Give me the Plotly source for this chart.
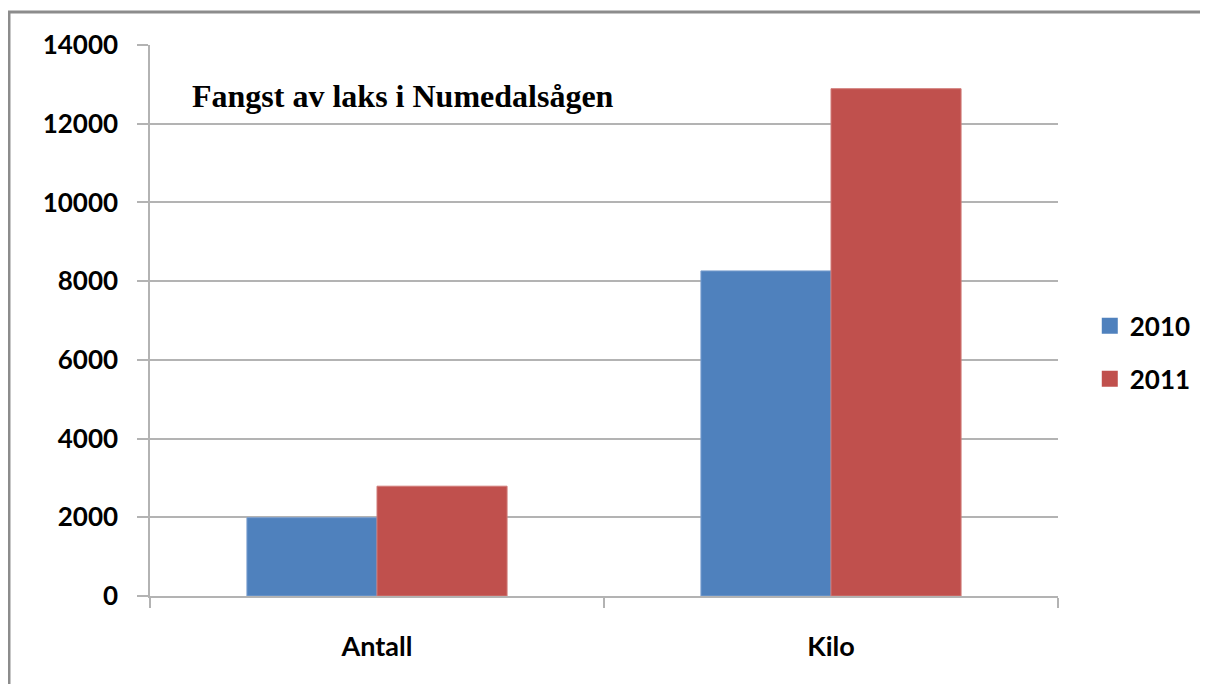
import plotly.graph_objects as go

categories = ["Antall", "Kilo"]
values_2010 = [1990, 8260]
values_2011 = [2790, 12890]
series_names = ["2010", "2011"]
y_ticks = [0, 2000, 4000, 6000, 8000, 10000, 12000, 14000]
title_text = "Fangst av laks i Numedalsågen"

blue = "#4F81BD"
red = "#C0504D"
grid = "#b3b3b3"
font_fam = "Lato, 'Open Sans', sans-serif"

fig = go.Figure()
fig.add_trace(go.Bar(x=categories, y=values_2010, name=series_names[0],
                     marker=dict(color=blue, line=dict(color="#7a9fcf", width=1)),
                     showlegend=False))
fig.add_trace(go.Bar(x=categories, y=values_2011, name=series_names[1],
                     marker=dict(color=red, line=dict(color="#d07a78", width=1)),
                     showlegend=False))
# legend entries with larger square swatches
for nm, col, grp in [(series_names[0], blue, "a"), (series_names[1], red, "b")]:
    fig.add_trace(go.Scatter(x=[None], y=[None], mode="markers", name=nm,
                             marker=dict(symbol="square", size=16, color=col),
                             legendgroup=grp, showlegend=True))

fig.update_layout(
    width=1208, height=684,
    margin=dict(l=142, r=158, t=37, b=96),
    paper_bgcolor="white", plot_bgcolor="white",
    barmode="group", bargap=0.427, bargroupgap=0,
    font=dict(family=font_fam, size=26, color="black"),
    showlegend=True,
    legend=dict(x=1.035, xanchor="left", y=0.442, yanchor="middle",
                font=dict(family=font_fam, size=26, color="black", weight="bold"),
                tracegroupgap=16, traceorder="grouped", itemsizing="trace"),
)
fig.update_yaxes(
    range=[0, 14000], tickvals=y_ticks, ticktext=[str(v) for v in y_ticks],
    showgrid=True, gridcolor=grid, gridwidth=1.5,
    showline=True, linecolor=grid, linewidth=1.5,
    ticks="outside", ticklen=11, tickcolor=grid, tickwidth=1.5,
    tickfont=dict(family=font_fam, size=26, color="black", weight="bold"),
    ticklabelstandoff=14, zeroline=False,
)
fig.update_xaxes(
    showline=True, linecolor=grid, linewidth=1.5,
    ticks="outside", ticklen=10, tickcolor=grid, tickwidth=1.5,
    tickson="boundaries",
    tickfont=dict(family=font_fam, size=27, color="black", weight="bold"),
    ticklabelstandoff=26,
)
fig.add_annotation(
    text=title_text, x=0.044, y=0.907, xref="paper", yref="paper",
    xanchor="left", yanchor="middle", showarrow=False,
    font=dict(family="'Liberation Serif', 'Times New Roman', serif", size=32,
              color="black", weight="bold"),
)
fig.add_shape(type="rect", xref="paper", yref="paper",
              x0=-0.1553, y0=-0.4, x1=1.4, y1=1.0599,
              line=dict(color="#8c8c8c", width=3), fillcolor="rgba(0,0,0,0)",
              layer="below")

fig.write_html("out.html")
